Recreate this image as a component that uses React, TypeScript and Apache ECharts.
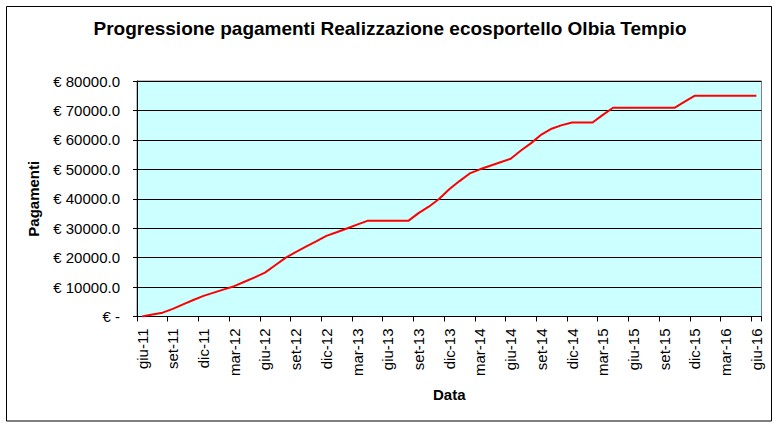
import React, { useEffect, useRef } from "react";
import * as echarts from "echarts";

const TITLE = "Progressione pagamenti Realizzazione ecosportello Olbia Tempio";
const Y_NAME = "Pagamenti";
const X_NAME = "Data";

const MONTHS: string[] = [
  "giu-11", "lug-11", "ago-11", "set-11", "ott-11", "nov-11", "dic-11",
  "gen-12", "feb-12", "mar-12", "apr-12", "mag-12", "giu-12", "lug-12", "ago-12", "set-12", "ott-12", "nov-12", "dic-12",
  "gen-13", "feb-13", "mar-13", "apr-13", "mag-13", "giu-13", "lug-13", "ago-13", "set-13", "ott-13", "nov-13", "dic-13",
  "gen-14", "feb-14", "mar-14", "apr-14", "mag-14", "giu-14", "lug-14", "ago-14", "set-14", "ott-14", "nov-14", "dic-14",
  "gen-15", "feb-15", "mar-15", "apr-15", "mag-15", "giu-15", "lug-15", "ago-15", "set-15", "ott-15", "nov-15", "dic-15",
  "gen-16", "feb-16", "mar-16", "apr-16", "mag-16", "giu-16",
];

const PAYMENTS: number[] = [
  0, 700, 1300, 2600, 4100, 5600, 7000,
  8100, 9200, 10300, 11800, 13300, 14900, 17400, 19900, 21900, 23700, 25500, 27400,
  28600, 29900, 31200, 32500, 32500, 32500, 32500, 32500, 35100, 37300, 39900, 43200,
  46000, 48600, 50000, 51200, 52400, 53600, 56400, 58900, 61800, 63800, 65000, 65900,
  65900, 65900, 68500, 70900, 70900, 70900, 70900, 70900, 70900, 70900, 73000, 75000,
  75000, 75000, 75000, 75000, 75000, 75000,
];

const Y_MIN = 0;
const Y_MAX = 80000;
const Y_STEP = 10000;

const FONT = "'Liberation Sans', Arial, sans-serif";

export default function App() {
  const ref = useRef<HTMLDivElement>(null);

  useEffect(() => {
    document.body.style.margin = "0";
    if (!ref.current) return;
    const chart = echarts.init(ref.current, undefined, { renderer: "svg" });
    chart.setOption({
      animation: false,
      backgroundColor: "#ffffff",
      title: {
        text: TITLE,
        left: "center",
        top: 19,
        padding: 0,
        textStyle: { fontFamily: FONT, fontSize: 19, fontWeight: "bold", color: "#000" },
      },
      graphic: [
        {
          type: "rect",
          shape: { x: 6.5, y: 6.5, width: 765, height: 414.5 },
          style: { fill: "none", stroke: "#000", lineWidth: 1 },
          silent: true,
        },
      ],
      grid: {
        show: true,
        left: 137,
        top: 81,
        right: 18.5,
        bottom: 111.5,
        backgroundColor: "#CCFFFF",
        borderColor: "#808080",
        borderWidth: 1,
        containLabel: false,
      },
      xAxis: {
        type: "category",
        data: MONTHS,
        boundaryGap: true,
        name: X_NAME,
        nameLocation: "middle",
        nameGap: 70,
        nameTextStyle: { fontFamily: FONT, fontSize: 15, fontWeight: "bold", color: "#000" },
        axisLine: { show: true, lineStyle: { color: "#000", width: 1 } },
        axisTick: { show: true, interval: 2, length: 5, alignWithLabel: false, lineStyle: { color: "#000" } },
        axisLabel: {
          interval: 2,
          rotate: 90,
          margin: 12,
          fontFamily: FONT,
          fontSize: 15,
          color: "#000",
        },
        splitLine: { show: false },
      },
      yAxis: {
        type: "value",
        min: Y_MIN,
        max: Y_MAX,
        interval: Y_STEP,
        name: Y_NAME,
        nameLocation: "middle",
        nameGap: 96,
        nameTextStyle: { fontFamily: FONT, fontSize: 15, fontWeight: "bold", color: "#000" },
        axisLine: { show: true, lineStyle: { color: "#000", width: 1 } },
        axisTick: { show: true, length: 4, lineStyle: { color: "#000" } },
        axisLabel: {
          margin: 17,
          fontFamily: FONT,
          fontSize: 15,
          color: "#000",
          formatter: (v: number) => (v === 0 ? "€ -" : "€ " + v.toFixed(1)),
        },
        splitLine: { show: true, lineStyle: { color: "#000", width: 1 } },
      },
      series: [
        {
          type: "line",
          data: PAYMENTS,
          showSymbol: false,
          symbol: "none",
          lineStyle: { color: "#FF0000", width: 2 },
          itemStyle: { color: "#FF0000" },
        },
      ],
    });
    return () => chart.dispose();
  }, []);

  return (
    <div
      ref={ref}
      style={{ position: "absolute", left: 0, top: 0, width: 780, height: 428 }}
    />
  );
}
